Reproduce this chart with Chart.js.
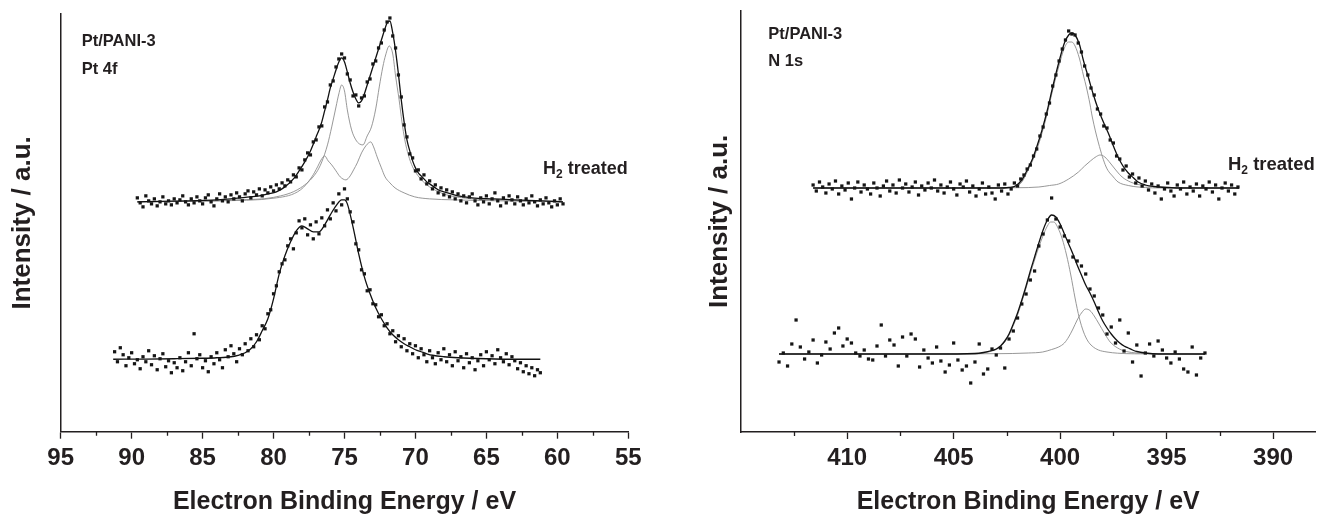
<!DOCTYPE html>
<html>
<head>
<meta charset="utf-8">
<script src="https://cdn.jsdelivr.net/npm/chart.js@4.4.1/dist/chart.umd.min.js"></script>
<style>
html,body{margin:0;padding:0;background:#fff;}
body{width:1323px;height:515px;position:relative;overflow:hidden;}
.box{position:absolute;top:0;height:515px;}
#boxL{left:0;width:680px;}
#boxR{left:697px;width:626px;}
</style>
</head>
<body>
<div class="box" id="boxL"><canvas id="cL" width="680" height="515"></canvas></div>
<div class="box" id="boxR"><canvas id="cR" width="626" height="515"></canvas></div>
<script>
// ---------------- Pt 4f panel ----------------
const pt4fTicks = [95, 90, 85, 80, 75, 70, 65, 60, 55];
const pt4fMinorTicks = [92.5, 87.5, 82.5, 77.5, 72.5, 67.5, 62.5, 57.5];
const pt4fLabels = ['Pt/PANI-3', 'Pt 4f'];
const treatedLabel = ['H', '2', ' treated'];

// H2 treated spectrum (measured points)
const pt4fH2DotsE = [89.6,89.4,89.2,89.0,88.8,88.6,88.4,88.2,88.0,87.8,87.6,87.4,87.2,87.0,86.8,86.6,86.4,86.2,86.0,85.8,
85.6,85.4,85.2,85.0,84.8,84.6,84.4,84.2,84.0,83.8,83.6,83.4,83.2,83.0,82.8,82.6,82.4,82.2,82.0,81.8,
81.6,81.4,81.2,81.0,80.8,80.6,80.4,80.2,80.0,79.8,79.6,79.4,79.2,79.0,78.8,78.6,78.4,78.2,78.0,77.8,
77.6,77.4,77.2,77.0,76.8,76.6,76.4,76.2,76.0,75.8,75.6,75.4,75.2,75.0,74.8,74.6,74.4,74.2,74.0,73.8,
73.6,73.4,73.2,73.0,72.8,72.6,72.4,72.2,72.0,71.8,71.6,71.4,71.2,71.0,70.8,70.6,70.4,70.2,70.0,69.8,
69.6,69.4,69.2,69.0,68.8,68.6,68.4,68.2,68.0,67.8,67.6,67.4,67.2,67.0,66.8,66.6,66.4,66.2,66.0,65.8,
65.6,65.4,65.2,65.0,64.8,64.6,64.4,64.2,64.0,63.8,63.6,63.4,63.2,63.0,62.8,62.6,62.4,62.2,62.0,61.8,
61.6,61.4,61.2,61.0,60.8,60.6,60.4,60.2,60.0,59.8,59.6];
const pt4fH2DotsI = [234,229,225,236,231,228,233,226,230,235,
228,231,227,233,229,232,236,230,227,233,
229,235,231,228,234,237,230,226,233,238,
231,235,230,237,233,239,235,231,238,241,
234,240,237,243,236,242,239,245,241,247,
243,249,246,252,250,257,255,264,262,272,
279,277,290,292,305,306,325,330,347,351,
365,373,378,374,358,352,336,337,326,334,
336,350,353,368,371,384,389,402,410,414,
396,384,357,335,307,295,278,274,261,262,
253,257,248,251,243,247,239,244,237,242,
235,240,233,238,231,236,229,235,238,231,
227,234,230,236,228,233,239,231,226,234,
229,236,232,228,235,231,227,233,229,236,
230,226,232,228,234,229,225,231,227,233,
228];
// H2 treated fit envelope
const pt4fH2FitE = [89.6,88,86,84,83,82,81,80.4,79.8,79.2,78.6,78.2,77.8,77.4,77.0,76.8,76.6,76.4,76.2,76.0,
75.8,75.6,75.4,75.2,75.0,74.8,74.6,74.4,74.2,74.0,73.8,73.6,73.4,73.2,73.0,72.8,72.6,72.4,72.2,72.0,
71.8,71.6,71.4,71.2,71.0,70.8,70.6,70.4,70.2,70.0,69.8,69.6,69.4,69.2,69.0,68.8,68.6,68.4,68.2,68.0,
67.5,67,66,64.5,63,61,59.6];
const pt4fH2FitI = [230,230.5,231,232,233,234.5,236,238,240,245,253,261,270,281,295,302,310,321,332,344,
353,362,370,374,370,360,349,340,333,329,331,338,347,356,365,374,383,392,401,409,
411,399,381,358,332,310,292,281,271,264,259,256,253,250,248,246,244,242,241,240,
238,236,234,233,232,231,230];
// H2 treated: Pt(0) doublet component
const pt4fH2Pt0E = [89.6,84,82.5,80,78.1,77.0,76.6,76.2,75.9,75.6,75.4,75.2,75.0,74.8,74.5,74.2,73.95,73.7,73.4,73.1,
72.8,72.55,72.3,72.1,71.85,71.6,71.4,71.15,70.95,70.75,70.5,70.2,69.7,69.2,68.5,67.8,66,64.5,59.6];
const pt4fH2Pt0I = [230,231,232,234.5,244,259,270,287,305,325,338,347,341,322,302,292,288,287,296,305,
323,345,365,377,386,378,356,332,310,292,277,265,254,247,241,237,233,232,230];
// H2 treated: Pt(II) doublet component
const pt4fH2Pt2E = [89.6,84,79.8,78.1,77.3,76.9,76.65,76.4,76.15,75.9,75.6,75.3,74.9,74.6,74.36,74.1,73.8,73.5,73.3,73.15,
72.95,72.7,72.4,72.14,71.8,71.44,70.8,70.05,69,67.3,64,59.6];
const pt4fH2Pt2I = [230,231,234,242,255,265,272,276,271,267,261,255,252,256,262,269,279,286,289,290,
285,275,264,255,249,244,239,235,233,232,231,230];

// As-prepared spectrum (measured points)
const pt4fDotsE = [91.2,91.0,90.8,90.6,90.4,90.2,90.0,89.8,89.6,89.4,89.2,89.0,88.8,88.6,88.4,88.2,88.0,87.8,87.6,87.4,
87.2,87.0,86.8,86.6,86.4,86.2,86.0,85.8,85.6,85.4,85.2,85.0,84.8,84.6,84.4,84.2,84.0,83.8,83.6,83.4,
83.2,83.0,82.8,82.6,82.4,82.2,82.0,81.8,81.6,81.4,81.2,81.0,80.8,80.6,80.4,80.2,80.0,79.8,79.6,79.4,
79.2,79.0,78.8,78.6,78.4,78.2,78.0,77.8,77.6,77.4,77.2,77.0,76.8,76.6,76.4,76.2,76.0,75.8,75.6,75.4,
75.2,75.0,74.8,74.6,74.4,74.2,74.0,73.8,73.6,73.4,73.2,73.0,72.8,72.6,72.4,72.2,72.0,71.8,71.6,71.4,
71.2,71.0,70.8,70.6,70.4,70.2,70.0,69.8,69.6,69.4,69.2,69.0,68.8,68.6,68.4,68.2,68.0,67.8,67.6,67.4,
67.2,67.0,66.8,66.6,66.4,66.2,66.0,65.8,65.6,65.4,65.2,65.0,64.8,64.6,64.4,64.2,64.0,63.8,63.6,63.4,
63.2,63.0,62.8,62.6,62.4,62.2,62.0,61.8,61.6,61.4,61.2];
const pt4fDotsI = [80,70,84,77,66,74,79,68,72,63,
75,70,81,67,76,62,73,78,65,71,
59,69,64,74,61,70,79,66,98,73,
77,64,71,60,75,68,79,72,64,82,
75,86,78,70,83,77,88,81,93,85,
97,92,106,103,118,122,138,146,160,168,
172,186,193,183,199,211,204,213,197,207,
193,210,198,214,206,222,213,229,221,238,
227,243,233,220,210,188,182,162,158,141,
142,128,127,115,117,106,108,98,101,90,
96,85,93,81,88,78,86,74,83,77,
70,81,74,68,79,72,83,70,77,66,
80,71,75,64,78,69,74,62,71,77,
66,80,72,76,68,82,74,70,78,67,
75,71,63,69,60,66,58,64,56,62,
59];
const pt4fFitE = [91.3,89,87,85,84,83,82.5,82,81.6,81.2,80.8,80.4,80.0,79.6,79.2,78.8,78.4,78.0,77.6,77.2,
76.8,76.4,76.0,75.6,75.2,75.0,74.8,74.4,74.0,73.6,73.2,72.8,72.4,72.0,71.6,71.2,70.8,70.4,70.0,69.6,
69.2,68.8,68,67,65,63,61.2];
const pt4fFitI = [72.5,72.7,73,73.5,74,75,76.5,79,83,90,101,113,133,158,176,190,201,206,203,200,
200,207,217,226,232,232,228,205,178,155,138,124,113,104,97,92,88,85,82,80,
78,76.5,75,74,73,72.5,72.5];

// ---------------- N 1s panel ----------------
const n1sTicks = [410, 405, 400, 395, 390];
const n1sMinorTicks = [412.5, 407.5, 402.5, 397.5, 392.5];
const n1sLabels = ['Pt/PANI-3', 'N 1s'];

const n1sH2DotsE = [411.6,411.45,411.3,411.15,411.0,410.85,410.7,410.55,410.4,410.25,
410.1,409.95,409.8,409.65,409.5,409.35,409.2,409.05,408.9,408.75,
408.6,408.45,408.3,408.15,408.0,407.85,407.7,407.55,407.4,407.25,
407.1,406.95,406.8,406.65,406.5,406.35,406.2,406.05,405.9,405.75,
405.6,405.45,405.3,405.15,405.0,404.85,404.7,404.55,404.4,404.25,
404.1,403.95,403.8,403.65,403.5,403.35,403.2,403.05,402.9,402.75,
402.6,402.45,402.3,402.15,402.0,401.85,401.7,401.55,401.4,401.25,
401.1,400.95,400.8,400.65,400.5,400.35,400.2,400.05,399.9,399.75,
399.6,399.45,399.3,399.15,399.0,398.85,398.7,398.55,398.4,398.25,
398.1,397.95,397.8,397.65,397.5,397.35,397.2,397.05,396.9,396.75,
396.6,396.45,396.3,396.15,396.0,395.85,395.7,395.55,395.4,395.25,
395.1,394.95,394.8,394.65,394.5,394.35,394.2,394.05,393.9,393.75,
393.6,393.45,393.3,393.15,393.0,392.85,392.7,392.55,392.4,392.25,
392.1,391.95,391.8,391.65];
const n1sH2DotsI = [247,241,250,245,239,248,243,251,238,246,
242,249,233,244,250,240,247,243,238,249,
244,236,246,251,241,247,239,252,244,248,
240,245,250,237,246,242,249,244,252,241,
247,239,245,250,243,237,248,245,251,240,
246,236,243,249,238,245,239,233,247,241,
248,238,243,249,246,253,257,263,267,276,
283,296,305,318,329,346,357,371,383,392,
401,398,397,389,380,366,357,344,337,323,
318,306,304,292,289,276,273,262,266,255,
258,249,254,246,251,242,248,239,246,233,
243,249,241,236,247,243,250,238,245,241,
248,236,246,243,250,240,247,233,244,249,
241,247,238,245];
const n1sH2FitE = [411.6,406,403,402.4,402.1,401.8,401.57,401.3,401.1,400.85,400.6,400.35,400.07,399.8,399.6,399.45,399.3,399.1,398.9,398.68,
398.45,398.2,397.95,397.74,397.5,397.28,397.05,396.8,396.55,396.34,396.0,395.6,395.0,394,391.6];
const n1sH2FitI = [244,244,244,244.5,246,252,261,273,285,302,322,345,369,389,397,399,397,388,371,355,
338,322,309,299,286,275,266,259,254,250,247,245.5,244.5,244,244];
const n1sH2MainE = [411.6,403,402.1,401.8,401.57,401.3,401.1,400.85,400.6,400.35,400.07,399.8,399.6,399.45,399.3,399.1,398.9,398.77,398.6,398.49,
398.2,397.84,397.5,397.28,396.8,396.34,395,391.6];
const n1sH2MainI = [244,244,245,250,259,271,282,299,319,342,365,384,390,390,386,374,356,345,328,315,
289,265,255,250,246.5,245,244,244];
const n1sH2SideE = [411.6,402,401,400.5,400.07,399.6,399.14,398.85,398.58,398.3,398.12,397.9,397.65,397.35,397.09,396.7,396.34,395.9,395.41,394,391.6];
const n1sH2SideI = [244,244.3,245,246.5,248,253,260,266,271,275.5,277,275,269,261,255,250,247.5,246,245,244.3,244];

const n1sDotsE = [413.2,413.0,412.8,412.6,412.4,412.2,412.0,411.8,411.6,411.4,
411.2,411.0,410.8,410.6,410.4,410.2,410.0,409.8,409.6,409.4,
409.2,409.0,408.8,408.6,408.4,408.2,408.0,407.8,407.6,407.4,
407.2,407.0,406.8,406.6,406.4,406.2,406.0,405.8,405.6,405.4,
405.2,405.0,404.8,404.6,404.4,404.2,404.0,403.8,403.6,403.4,
403.2,403.0,402.8,402.6,402.4,402.2,402.0,401.8,401.6,401.4,
401.2,401.0,400.8,400.6,400.4,400.2,400.0,399.8,399.6,399.4,
399.2,399.0,398.8,398.6,398.4,398.2,398.0,397.8,397.6,397.4,
397.2,397.0,396.8,396.6,396.4,396.2,396.0,395.8,395.6,395.4,
395.2,395.0,394.8,394.6,394.4,394.2,394.0,393.8,393.6,393.4,
393.2];
const n1sDotsI = [70,79,66,88,112,85,73,80,92,69,
77,90,83,99,104,86,93,89,79,76,
82,73,72,86,107,76,92,87,66,95,
76,98,93,65,82,74,69,85,71,60,
67,89,72,62,66,49,70,88,58,63,
83,77,84,64,93,101,114,128,138,152,
161,186,198,212,234,213,205,196,191,175,
171,166,158,143,136,124,117,98,105,89,
112,81,99,70,87,56,79,88,76,91,
82,74,69,80,73,63,60,85,57,74,
79];
const n1sFitE = [413.2,406,404,403.6,403.2,403.0,402.8,402.6,402.4,402.2,402.0,401.8,401.6,401.4,401.2,401.0,400.8,400.6,400.4,400.2,
400.0,399.8,399.6,399.4,399.2,399.0,398.8,398.6,398.4,398.2,398.0,397.8,397.6,397.4,397.2,397.0,396.8,396.6,396.4,396.0,
395.4,393.2];
const n1sFitI = [78,78,78.5,79.5,81.5,83,86,91,98,108,119,132,146,161,175,189,202,212,217,215,
208,198,188,178,167,157,147,139,130,120,111,104,98,93,89,86,84,82,80.5,79,
78,78];
const n1sMainE = [413.2,404,403.6,403.2,403.0,402.8,402.6,402.4,402.2,402.0,401.8,401.6,401.4,401.2,401.0,400.8,400.6,400.45,400.3,400.1,
399.9,399.7,399.5,399.3,399.1,398.9,398.7,398.5,398.2,397.8,397.3,396.5,393.2];
const n1sMainI = [78,78,79,81,82.5,85.5,90,97,106.5,117,130,144,158.5,172,185,196.5,206,210,210,204,
193,177,157,134,114,100,91,86,82,80,78.8,78.2,78];
const n1sSideE = [413.2,403,401.5,400.82,400.4,400.07,399.8,399.6,399.4,399.2,399.0,398.8,398.6,398.4,398.2,397.9,397.65,397.3,396.9,396.4,395.5,393.2];
const n1sSideI = [78,78.3,79,80,82.5,85,89,95,103,112,119,123,121.5,116,109,98,90,84,80.5,79,78.3,78];

// ---------------- drawing ----------------
const INK = '#231f20';
const FONT = '"Liberation Sans", Arial, Helvetica, sans-serif';
Chart.defaults.font.family = FONT;
Chart.defaults.color = INK;

function pairs(xs, ys) { return xs.map((x, i) => ({ x: x, y: ys[i] })); }
function dots(xs, ys) {
  return { data: pairs(xs, ys), showLine: false, pointStyle: 'rect', pointRadius: 2.3,
    pointBorderWidth: 0, pointBackgroundColor: '#151515', pointHoverRadius: 0, clip: false };
}
function curve(xs, ys, color, w) {
  return { data: pairs(xs, ys), showLine: true, pointRadius: 0, pointHoverRadius: 0,
    borderColor: color, borderWidth: w, cubicInterpolationMode: 'monotone', fill: false, clip: false };
}

function minorTickPlugin(vals) {
  return { id: 'minorTicks', afterDraw(chart) {
    const s = chart.scales.x, c = chart.ctx;
    c.save(); c.strokeStyle = INK; c.lineWidth = 1.3; c.beginPath();
    vals.forEach(v => { const px = Math.round(s.getPixelForValue(v)) + 0.5; c.moveTo(px, s.top); c.lineTo(px, s.top + 4); });
    c.stroke(); c.restore();
  } };
}
function notesPlugin(items) {
  return { id: 'notes', afterDraw(chart) {
    const c = chart.ctx;
    c.save(); c.fillStyle = INK; c.textBaseline = 'middle'; c.textAlign = 'left';
    items.forEach(it => {
      let x = it.x;
      it.parts.forEach(p => {
        c.font = 'bold ' + p.size + 'px ' + FONT;
        c.fillText(p.t, x, it.y + (p.dy || 0));
        x += c.measureText(p.t).width;
      });
    });
    c.restore();
  } };
}

function makeChart(id, o) {
  return new Chart(document.getElementById(id), {
    type: 'scatter',
    data: { datasets: o.datasets },
    options: {
      responsive: false, animation: false, devicePixelRatio: 1, events: [],
      layout: { padding: o.padding },
      plugins: { legend: { display: false }, tooltip: { enabled: false } },
      scales: {
        x: {
          type: 'linear', min: o.xmin, max: o.xmax, reverse: true,
          afterBuildTicks: s => { s.ticks = o.ticks.map(v => ({ value: v })); },
          ticks: { autoSkip: false, maxRotation: 0, padding: 5, color: INK,
            font: { size: 24, weight: 'bold' }, callback: v => String(v) },
          grid: { display: true, drawOnChartArea: false, drawTicks: true, tickLength: 7, tickWidth: 1.3, tickColor: INK },
          border: { display: true, color: INK, width: 1.5 },
          title: { display: true, text: 'Electron Binding Energy / eV', color: INK, padding: 0,
            font: { size: 25, weight: 'bold', lineHeight: 1 } },
          afterFit: s => { s.height = o.xh; }
        },
        y: {
          type: 'linear', min: 0, max: o.ymax,
          ticks: { display: false },
          grid: { display: false },
          border: { display: true, color: INK, width: 1.5 },
          title: { display: true, text: 'Intensity / a.u.', color: INK, padding: { top: 7, bottom: 0 },
            font: { size: 26, weight: 'bold' } },
          afterFit: s => { s.width = o.yw; }
        }
      }
    },
    plugins: [minorTickPlugin(o.minor), notesPlugin(o.notes)]
  });
}

const GREY = '#8c8c8c';
makeChart('cL', {
  xmin: 55, xmax: 95, ticks: pt4fTicks, minor: pt4fMinorTicks, ymax: 418,
  padding: { top: 14, right: 51.7, left: 0, bottom: 0 }, xh: 83.3, yw: 60.7,
  datasets: [
    dots(pt4fH2DotsE, pt4fH2DotsI),
    dots(pt4fDotsE, pt4fDotsI),
    curve(pt4fH2FitE, pt4fH2FitI, '#111', 1.3),
    curve(pt4fFitE, pt4fFitI, '#111', 1.3),
    curve(pt4fH2Pt0E, pt4fH2Pt0I, GREY, 0.9),
    curve(pt4fH2Pt2E, pt4fH2Pt2I, GREY, 0.9)
  ],
  notes: [
    { x: 81.7, y: 41, parts: [{ t: pt4fLabels[0], size: 16.5 }] },
    { x: 81.7, y: 69, parts: [{ t: pt4fLabels[1], size: 16.5 }] },
    { x: 543, y: 169, parts: [{ t: treatedLabel[0], size: 18 }, { t: treatedLabel[1], size: 12, dy: 6 }, { t: treatedLabel[2], size: 18 }] }
  ]
});

makeChart('cR', {
  xmin: 388, xmax: 415, ticks: n1sTicks, minor: n1sMinorTicks, ymax: 421.3,
  padding: { top: 10.7, right: 7.3, left: 0, bottom: 0 }, xh: 83, yw: 43.7,
  datasets: [
    dots(n1sH2DotsE, n1sH2DotsI),
    dots(n1sDotsE, n1sDotsI),
    curve(n1sH2FitE, n1sH2FitI, '#111', 1.3),
    curve(n1sFitE, n1sFitI, '#111', 1.3),
    curve(n1sH2MainE, n1sH2MainI, GREY, 0.9),
    curve(n1sH2SideE, n1sH2SideI, GREY, 0.9),
    curve(n1sMainE, n1sMainI, GREY, 0.9),
    curve(n1sSideE, n1sSideI, GREY, 0.9)
  ],
  notes: [
    { x: 71.3, y: 34, parts: [{ t: n1sLabels[0], size: 16.5 }] },
    { x: 71.3, y: 61, parts: [{ t: n1sLabels[1], size: 16.5 }] },
    { x: 531, y: 165, parts: [{ t: treatedLabel[0], size: 18.5 }, { t: treatedLabel[1], size: 12, dy: 6 }, { t: treatedLabel[2], size: 18.5 }] }
  ]
});
</script>
</body>
</html>
